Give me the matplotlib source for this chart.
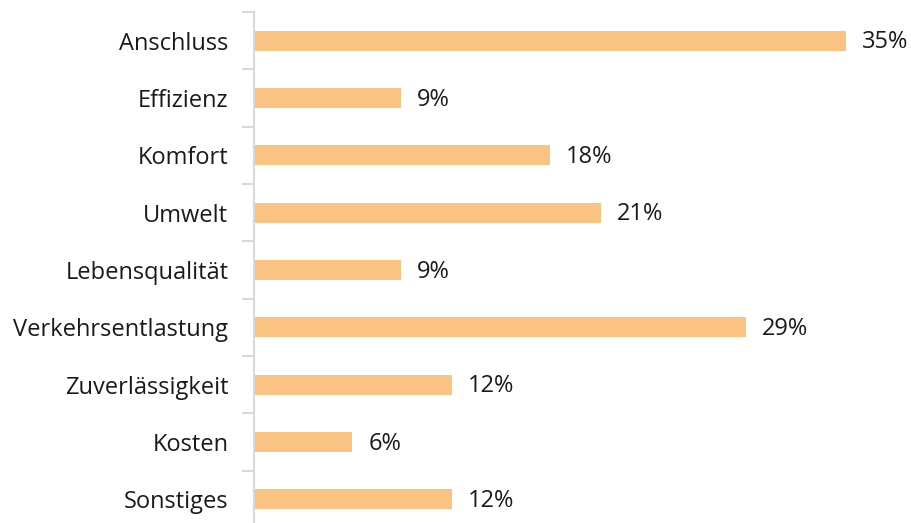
import matplotlib.pyplot as plt
import numpy as np

plt.rcParams['font.family'] = ['Open Sans', 'DejaVu Sans']

categories = ["Anschluss", "Effizienz", "Komfort", "Umwelt", "Lebensqualität",
              "Verkehrsentlastung", "Zuverlässigkeit", "Kosten", "Sonstiges"]
values = [35, 8.7, 17.5, 20.5, 8.7, 29.1, 11.7, 5.8, 11.7]
labels = ["35%", "9%", "18%", "21%", "9%", "29%", "12%", "6%", "12%"]

fig = plt.figure(figsize=(9.11, 5.23), dpi=100)
ax = fig.add_axes([254/911, -5/523, 0.975 - 254/911, (511+5)/523])

y = np.arange(len(categories))
ax.barh(y, values, height=0.35, color="#fac382")
for yi, v, lab in zip(y, values, labels):
    ax.text(v + 0.95, yi + 0.03, lab, va="center", ha="left", fontsize=17, color="#1a1a1a")

ax.set_ylim(len(categories) - 0.5, -0.5)
ax.set_xlim(0, 37.5)
ax.set_yticks(y)
ax.set_yticklabels(categories, fontsize=17, color="#1a1a1a")
ax.tick_params(axis="y", which="major", length=0, pad=18.5)
ax.set_yticks(np.arange(-0.5, len(categories), 1), minor=True)
ax.tick_params(axis="y", which="minor", length=9, width=1.5, color="#d9d9d9")
ax.set_xticks([])
for s in ["top", "right", "bottom"]:
    ax.spines[s].set_visible(False)
ax.spines["left"].set_color("#d9d9d9")
ax.spines["left"].set_linewidth(1.5)

fig.savefig("out.png", dpi=100)
